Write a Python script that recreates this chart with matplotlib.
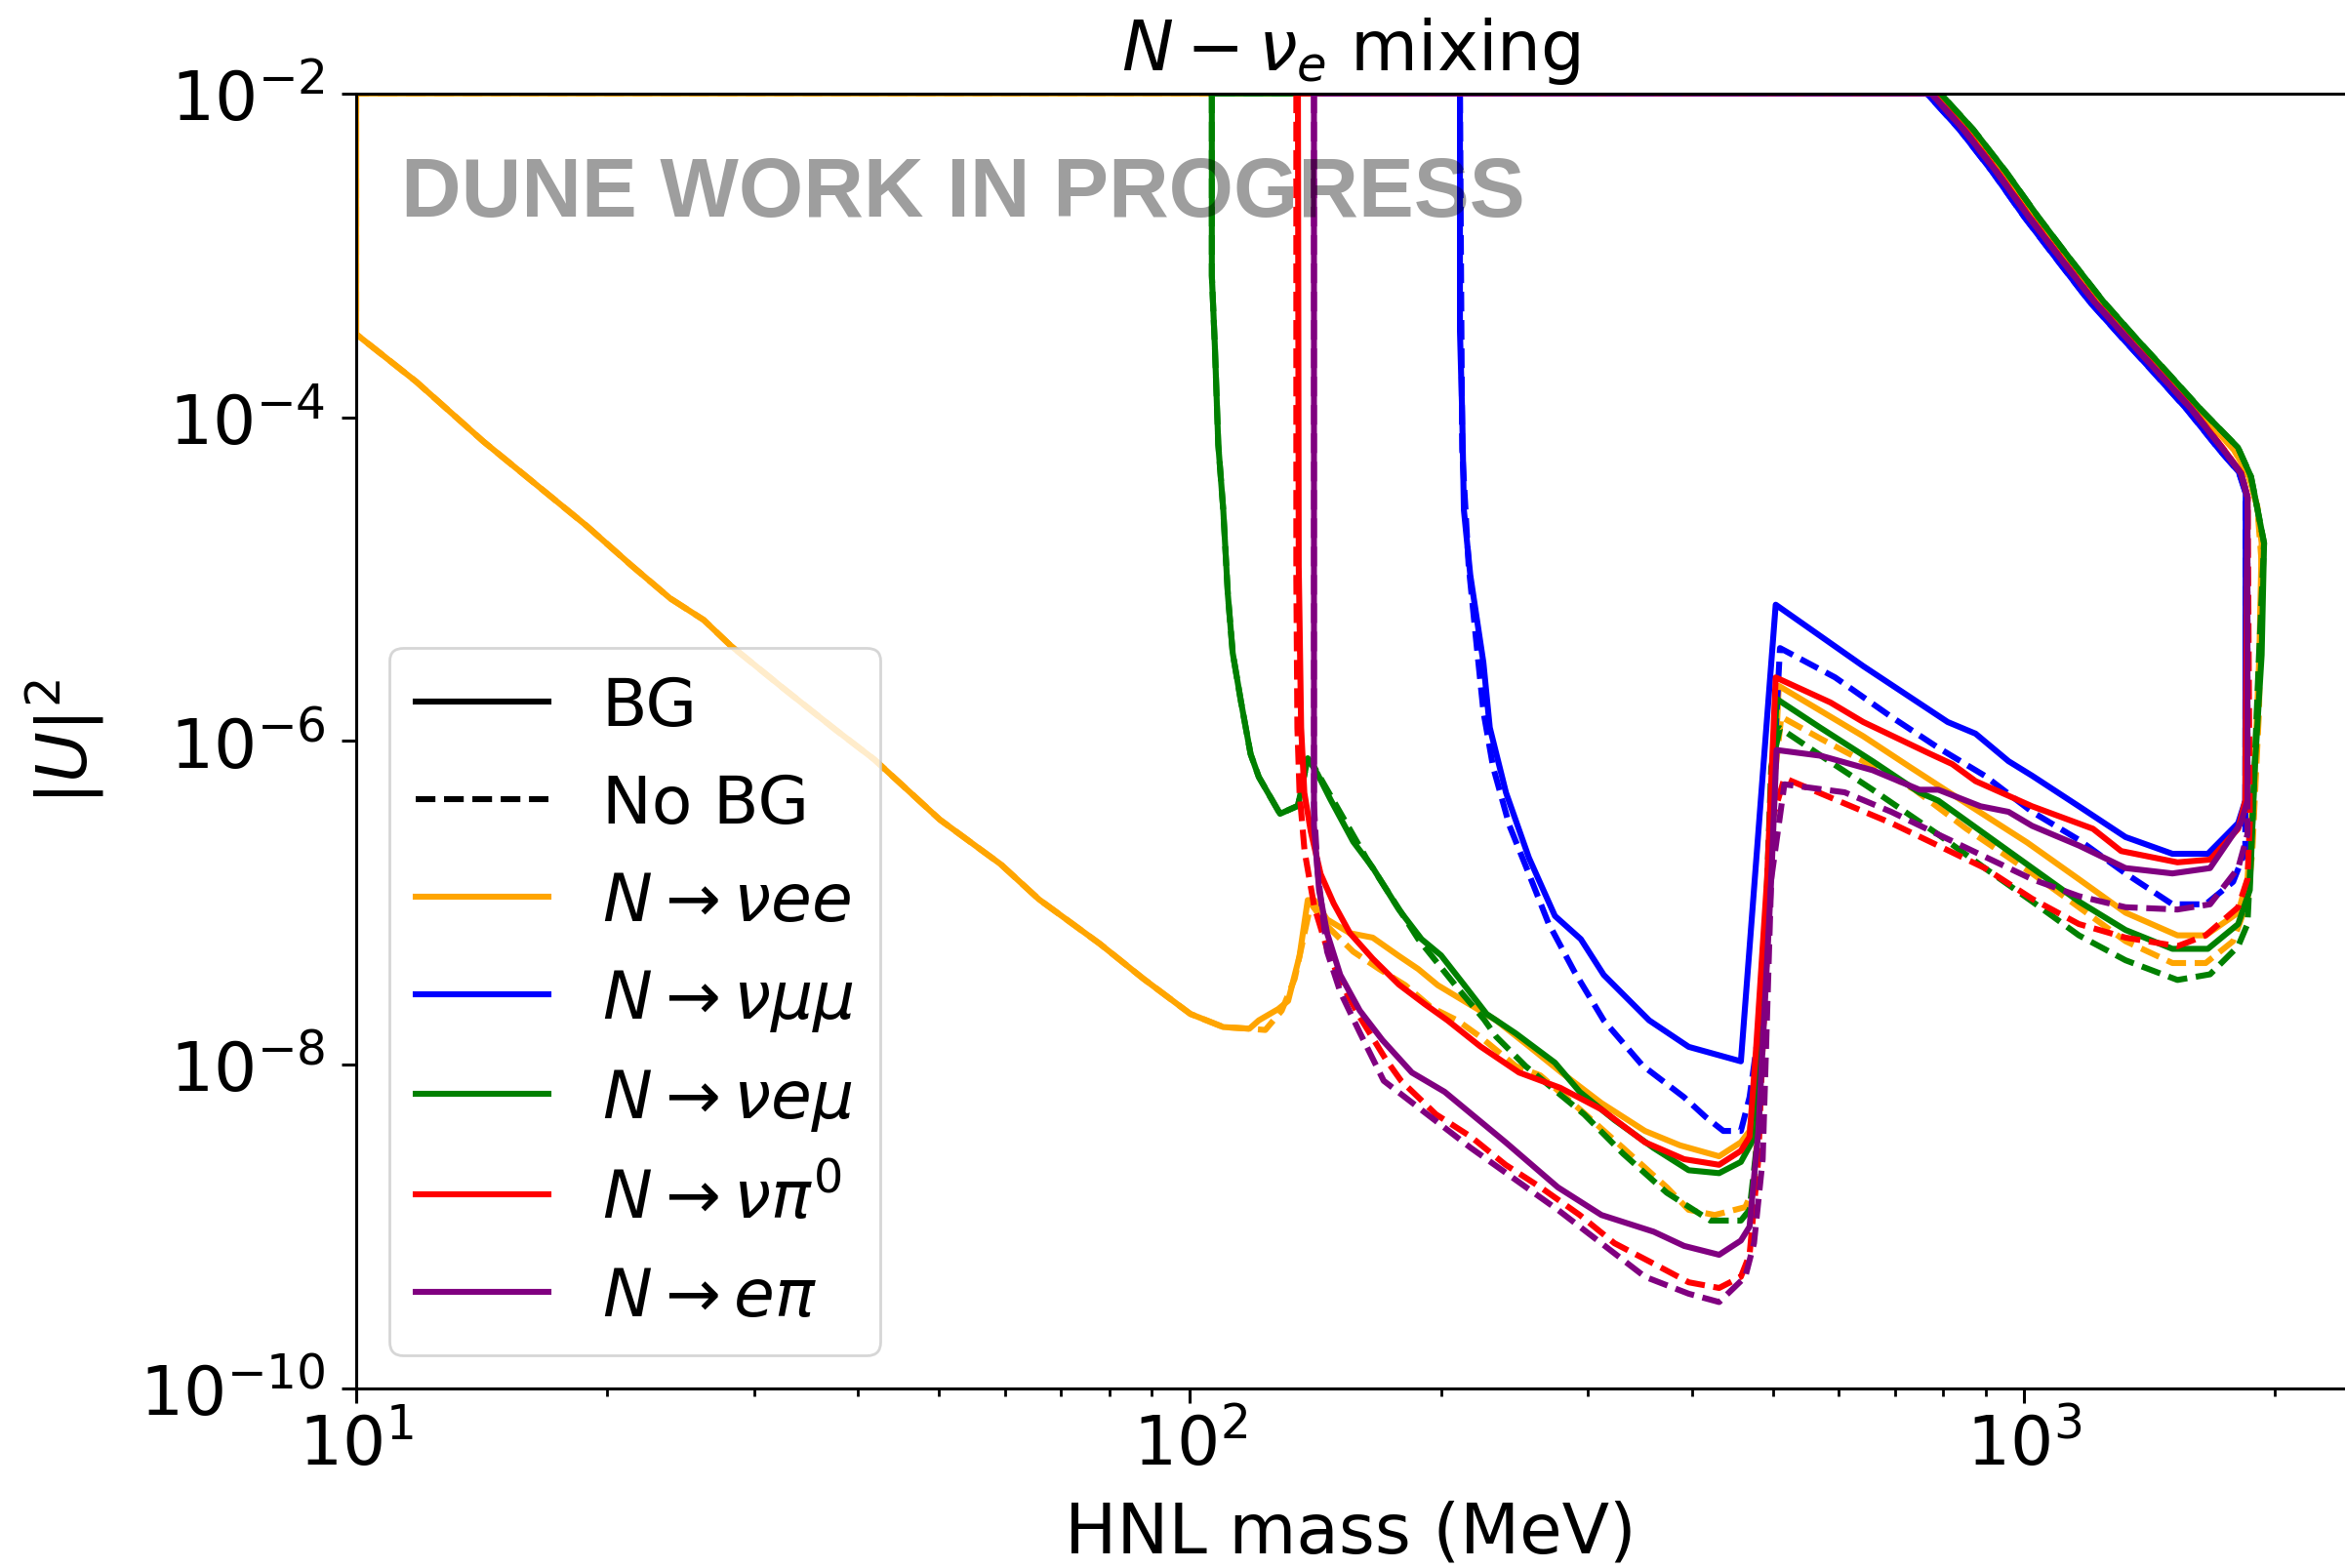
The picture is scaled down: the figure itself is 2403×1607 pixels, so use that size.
import matplotlib
matplotlib.use("Agg")
import matplotlib.pyplot as plt
from matplotlib.lines import Line2D
from matplotlib.ticker import NullLocator

# ---------------------------------------------------------------------------
# Sensitivity contours, |U|^2 versus HNL mass (MeV).
# Each channel: lower boundary with background (bg) and without (nobg),
# plus the shared high-mass upper boundary that closes the contour.
# ---------------------------------------------------------------------------

# N -> nu e e
vee_bg_mass = [10, 10, 11.8, 14.2, 16.8, 18.9, 21.4, 23.8, 26.1, 28.1, 32.7, 37.6, 41.8,
               50.1, 59.3, 65.9, 77.9, 87.9, 100.1, 109.6, 117.8, 120.9, 127.6, 131.1,
               135.3, 138.4, 140.9, 146.0, 155.5, 165.6, 178.0, 187.8, 198.2, 213, 232.9,
               254.9, 278.7, 311.4, 351.2, 386.8, 431.0, 457.7, 468.8, 480.3, 492.0, 508.2,
               571.2, 641.7, 730.3, 853.1, 1009, 1164, 1324, 1528, 1652, 1807, 1854, 1892,
               1916, 1928]
vee_bg_u2 = [1e-2, 3.26e-4, 1.66e-4, 7.1e-5, 3.5e-5, 2.13e-5, 1.21e-5, 7.6e-6, 5.6e-6, 3.9e-6,
             2.07e-6, 1.17e-6, 7.7e-7, 3.27e-7, 1.73e-7, 1.05e-7, 5.6e-8, 3.4e-8, 2.06e-8,
             1.71e-8, 1.67e-8, 1.88e-8, 2.21e-8, 2.48e-8, 4.7e-8, 1.04e-7, 1.04e-7, 7.9e-8,
             6.5e-8, 6.1e-8, 4.7e-8, 3.9e-8, 3.1e-8, 2.48e-8, 1.88e-8, 1.30e-8, 8.97e-9,
             5.8e-9, 3.9e-9, 3.18e-9, 2.72e-9, 3.32e-9, 3.9e-9, 8.6e-9, 6.3e-8, 2.19e-6,
             1.53e-6, 1.07e-6, 6.9e-7, 4.11e-7, 2.36e-7, 1.40e-7, 8.7e-8, 6.3e-8, 6.3e-8,
             8.7e-8, 1.40e-7, 6.9e-7, 3.4e-6, 1.67e-5]
vee_nobg_mass = [10, 10, 11.8, 14.2, 16.8, 18.9, 21.4, 23.8, 26.1, 28.1, 32.7, 37.6, 41.8,
                 50.1, 59.3, 65.9, 77.9, 87.9, 100.1, 109.6, 117.8, 123.1, 128.8, 133.5,
                 139.6, 146.0, 156.9, 168.6, 181.2, 194.7, 209.2, 222.8, 245.9, 263.0, 293.4,
                 330.7, 373.0, 396.2, 425.8, 463.3, 474.6, 486.1, 503.9, 511.7, 571.2, 641.7,
                 739.6, 853.1, 1023, 1164, 1324, 1507, 1652, 1782, 1854, 1879, 1914, 1928]
vee_nobg_u2 = [1e-2, 3.26e-4, 1.66e-4, 7.1e-5, 3.5e-5, 2.13e-5, 1.21e-5, 7.6e-6, 5.6e-6,
               3.9e-6, 2.07e-6, 1.17e-6, 7.7e-7, 3.27e-7, 1.73e-7, 1.05e-7, 5.6e-8, 3.4e-8,
               2.06e-8, 1.71e-8, 1.67e-8, 1.64e-8, 2.16e-8, 3.4e-8, 9.9e-8, 7.2e-8, 5.0e-8,
               3.9e-8, 3.1e-8, 2.26e-8, 1.88e-8, 1.49e-8, 9.8e-9, 8.6e-9, 5.3e-9, 3.06e-9,
               1.75e-9, 1.27e-9, 1.18e-9, 1.32e-9, 1.75e-9, 1.29e-8, 6.9e-7, 1.41e-6, 1.03e-6,
               7.5e-7, 5.0e-7, 2.87e-7, 1.52e-7, 9.4e-8, 5.8e-8, 4.25e-8, 4.25e-8, 5.8e-8,
               1.02e-7, 2.09e-7, 1.53e-6, 1.26e-5]
vee_upper_mass = [1905, 1862, 1786, 1611, 1472, 1346, 1230, 1125, 1028, 940, 859, 785]
vee_upper_u2 = [2.8e-5, 4.3e-5, 6.3e-5, 1.12e-4, 1.87e-4, 3.1e-4, 5.2e-4, 9.4e-4, 1.73e-3,
                3.3e-3, 6.0e-3, 1e-2]

# N -> nu mu mu
vmm_bg_mass = [210.7, 210.7, 212.0, 213.0, 216.8, 224.8, 228.8, 239.3, 254.9, 273.9, 294.2,
               313.4, 355.3, 396.3, 457.7, 503.9, 641.7, 810.2, 875.0, 958.5, 1023, 1164,
               1324, 1507, 1662, 1807, 1843]
vmm_bg_u2 = [1e-2, 3.42e-4, 1.07e-4, 2.68e-5, 1.06e-5, 3.05e-6, 1.21e-6, 4.79e-7, 1.90e-7,
             8.3e-8, 5.97e-8, 3.59e-8, 1.88e-8, 1.29e-8, 1.05e-8, 6.95e-6, 2.9e-6, 1.31e-6,
             1.11e-6, 7.5e-7, 6.1e-7, 3.95e-7, 2.55e-7, 2.01e-7, 2.01e-7, 3.11e-7, 4.28e-7]
vmm_nobg_mass = [210.7, 212.0, 215.8, 220.7, 224.8, 230.9, 241.5, 254.9, 269.0, 289.0, 313.4,
                 348.8, 391.3, 415.6, 436.1, 457.7, 468.8, 483.1, 509.9, 593.8, 693.4, 788.9,
                 897.5, 1023, 1164, 1324, 1507, 1652, 1782, 1843]
vmm_nobg_u2 = [1e-2, 6.3e-5, 1.22e-5, 3.84e-6, 1.52e-6, 6.9e-7, 3.01e-7, 1.51e-7, 7.5e-8,
               3.76e-8, 1.88e-8, 9.9e-9, 6.3e-9, 4.74e-9, 3.9e-9, 3.9e-9, 6.3e-9, 1.91e-8,
               3.75e-6, 2.47e-6, 1.41e-6, 9.1e-7, 6.1e-7, 3.65e-7, 2.45e-7, 1.52e-7, 9.8e-8,
               9.8e-8, 1.35e-7, 2.09e-7]
vmm_upper_mass = [1845, 1810, 1720, 1568, 1434, 1311, 1198, 1096, 1001, 916, 837, 765]
vmm_upper_u2 = [3.4e-5, 4.6e-5, 6.2e-5, 1.12e-4, 1.87e-4, 3.1e-4, 5.2e-4, 9.4e-4, 1.73e-3,
                3.3e-3, 6.0e-3, 1e-2]

# N -> nu e mu
vem_bg_mass = [106.2, 106.2, 107.1, 108.1, 109.6, 111.0, 112.5, 115.1, 118.2, 120.9, 128.2,
               134.7, 138.4, 142.1, 147.3, 156.9, 165.6, 178.0, 189.5, 200.0, 213.0, 226.8,
               245.9, 273.9, 293.3, 322.8, 359.7, 396.3, 431.0, 457.7, 471.6, 483.1, 505.1,
               571.1, 658.5, 749.6, 789.5, 958.5, 1164, 1324, 1507, 1662, 1807, 1866, 1892,
               1928, 1941]
vem_bg_u2 = [1e-2, 7.5e-4, 2.71e-4, 6.8e-5, 2.68e-5, 8.05e-6, 3.5e-6, 1.75e-6, 8.3e-7, 6.0e-7,
             3.55e-7, 3.98e-7, 7.8e-7, 6.3e-7, 4.37e-7, 2.39e-7, 1.65e-7, 9.1e-8, 5.97e-8,
             4.74e-8, 3.13e-8, 2.06e-8, 1.56e-8, 1.03e-8, 6.8e-9, 4.56e-9, 3.06e-9, 2.23e-9,
             2.14e-9, 2.51e-9, 3.32e-9, 1.29e-8, 1.82e-6, 1.2e-6, 7.5e-7, 4.8e-7, 4.28e-7,
             2.09e-7, 1.02e-7, 6.8e-8, 5.2e-8, 5.2e-8, 7.4e-8, 1.20e-7, 6.9e-7, 3.4e-6, 1.67e-5]
vem_nobg_mass = [106.2, 106.2, 107.1, 108.1, 109.6, 111.0, 112.5, 115.1, 118.2, 120.9, 128.2,
                 134.7, 138.4, 140.9, 162.6, 187.8, 209.2, 225.1, 232.9, 252.6, 296.9, 330.7,
                 373.0, 420.7, 457.7, 468.8, 480.3, 497.7, 509.9, 571.2, 658.5, 788.9, 897.5,
                 1023, 1164, 1324, 1528, 1672, 1807, 1854, 1879, 1914, 1941]
vem_nobg_u2 = [1e-2, 7.5e-4, 2.71e-4, 6.8e-5, 2.68e-5, 8.05e-6, 3.5e-6, 1.75e-6, 8.3e-7,
               6.0e-7, 3.55e-7, 3.98e-7, 7.8e-7, 6.9e-7, 1.90e-7, 5.97e-8, 2.99e-8, 1.91e-8,
               1.49e-8, 9.8e-9, 4.94e-9, 2.82e-9, 1.62e-9, 1.09e-9, 1.09e-9, 1.27e-9, 3.9e-9,
               6.9e-7, 1.2e-6, 8.1e-7, 5.0e-7, 2.65e-7, 1.64e-7, 1.02e-7, 6.3e-8, 4.42e-8,
               3.34e-8, 3.62e-8, 5.4e-8, 7.4e-8, 3.11e-7, 3.4e-6, 1.67e-5]
vem_upper_mass = [1906, 1872, 1806, 1629, 1489, 1361, 1245, 1138, 1040, 951, 869, 794]
vem_upper_u2 = [2.7e-5, 4.3e-5, 6.5e-5, 1.12e-4, 1.87e-4, 3.1e-4, 5.2e-4, 9.4e-4, 1.73e-3,
                3.3e-3, 6.0e-3, 1e-2]

# N -> nu pi0
vpi_bg_mass = [134.7, 135.0, 135.9, 137.1, 139.6, 143.4, 148.7, 155.5, 165.6, 178.0, 191.2,
               203.6, 222.8, 248.1, 278.0, 311.4, 351.2, 391.3, 431.0, 457.7, 468.8, 477.5,
               492.0, 503.9, 586.1, 641.7, 769.1, 820.4, 875.0, 1023, 1210, 1308, 1528, 1672,
               1807, 1843]
vpi_bg_u2 = [1e-2, 1.2e-5, 1.21e-6, 4.79e-7, 2.75e-7, 1.51e-7, 9.9e-8, 6.5e-8, 4.52e-8,
             3.13e-8, 2.37e-8, 1.88e-8, 1.30e-8, 8.95e-9, 7.2e-9, 5.3e-9, 3.32e-9, 2.61e-9,
             2.41e-9, 2.94e-9, 3.59e-9, 1.29e-8, 1.40e-7, 2.47e-6, 1.73e-6, 1.31e-6, 8.4e-7,
             7.2e-7, 5.65e-7, 3.95e-7, 2.87e-7, 2.09e-7, 1.78e-7, 1.85e-7, 2.87e-7, 4.28e-7]
vpi_nobg_mass = [134.1, 134.1, 134.5, 135.3, 137.2, 140.9, 146.0, 151.4, 159.8, 171.7, 179.1,
                 197.2, 217.2, 239.0, 263.2, 293.3, 322.8, 359.8, 396.3, 431.0, 457.7, 468.8,
                 480.3, 497.7, 516.1, 609.5, 693.4, 788.9, 897.5, 1023, 1164, 1324, 1528, 1652,
                 1807, 1854, 1866]
vpi_nobg_u2 = [1e-2, 1e-5, 1.2e-6, 4.79e-7, 2.08e-7, 9.5e-8, 5.2e-8, 3.27e-8, 1.97e-8,
               1.08e-8, 7.96e-9, 4.94e-9, 3.59e-9, 2.41e-9, 1.75e-9, 1.18e-9, 7.9e-10,
               5.9e-10, 4.53e-10, 4.18e-10, 4.9e-10, 6.7e-10, 2.61e-9, 3.11e-7, 5.9e-7, 4.11e-7,
               3.11e-7, 2.26e-7, 1.64e-7, 1.06e-7, 7.4e-8, 6.1e-8, 5.4e-8, 6.3e-8, 9.4e-8,
               1.40e-7, 3.11e-7]
vpi_upper_mass = [1855, 1823, 1742, 1592, 1455, 1330, 1216, 1112, 1016, 929, 849, 776]
vpi_upper_u2 = [3.2e-5, 4.5e-5, 6.2e-5, 1.12e-4, 1.87e-4, 3.1e-4, 5.2e-4, 9.4e-4, 1.73e-3,
                3.3e-3, 6.0e-3, 1e-2]

# N -> e pi
epi_bg_mass = [140.8, 140.8, 142.8, 146.0, 151.4, 159.8, 170.1, 184.5, 202.0, 239.0, 276.1,
               311.4, 359.8, 391.3, 431.0, 457.7, 468.8, 480.3, 497.7, 505.1, 571.2, 658.5,
               749.6, 789.5, 887.2, 958.5, 1023, 1164, 1324, 1507, 1672, 1820, 1854]
epi_bg_u2 = [1e-2, 3.01e-7, 1.20e-7, 6.5e-8, 3.59e-8, 2.16e-8, 1.42e-8, 8.95e-9, 6.8e-9,
             3.32e-9, 1.75e-9, 1.18e-9, 9.3e-10, 7.6e-10, 6.7e-10, 8.2e-10, 1.0e-9, 3.9e-9,
             1.40e-7, 8.8e-7, 8.1e-7, 6.6e-7, 5.0e-7, 5.0e-7, 3.95e-7, 3.65e-7, 2.99e-7,
             2.26e-7, 1.64e-7, 1.52e-7, 1.64e-7, 3.11e-7, 4.28e-7]
epi_nobg_mass = [140.8, 140.8, 142.2, 146.0, 151.4, 159.8, 170.7, 217.2, 276.1, 351.2, 396.3,
                 431.0, 463.3, 474.6, 486.1, 497.7, 516.1, 609.5, 693.4, 788.9, 897.5, 1023,
                 1164, 1324, 1528, 1672, 1807, 1854]
epi_nobg_u2 = [1e-2, 4.0e-7, 1.58e-7, 5.0e-8, 2.82e-8, 1.58e-8, 7.96e-9, 3.06e-9, 1.27e-9,
               4.9e-10, 3.85e-10, 3.42e-10, 4.9e-10, 7.9e-10, 2.61e-9, 1.40e-7, 5.4e-7, 4.82e-7,
               3.65e-7, 2.65e-7, 1.93e-7, 1.40e-7, 1.10e-7, 9.4e-8, 9.1e-8, 9.8e-8, 1.64e-7,
               2.65e-7]
epi_upper_mass = [1854, 1821, 1738, 1588, 1451, 1327, 1213, 1109, 1013, 926, 846, 774]
epi_upper_u2 = [3.2e-5, 4.5e-5, 6.2e-5, 1.12e-4, 1.87e-4, 3.1e-4, 5.2e-4, 9.4e-4, 1.73e-3,
                3.3e-3, 6.0e-3, 1e-2]

channel_labels = [r"$N \rightarrow \nu ee$", r"$N \rightarrow \nu\mu\mu$",
                  r"$N \rightarrow \nu e\mu$", r"$N \rightarrow \nu\pi^0$",
                  r"$N \rightarrow e\pi$"]
channel_colors = ["orange", "blue", "green", "red", "purple"]

channels = [
    (vee_bg_mass, vee_bg_u2, vee_nobg_mass, vee_nobg_u2, vee_upper_mass, vee_upper_u2),
    (vmm_bg_mass, vmm_bg_u2, vmm_nobg_mass, vmm_nobg_u2, vmm_upper_mass, vmm_upper_u2),
    (vem_bg_mass, vem_bg_u2, vem_nobg_mass, vem_nobg_u2, vem_upper_mass, vem_upper_u2),
    (vpi_bg_mass, vpi_bg_u2, vpi_nobg_mass, vpi_nobg_u2, vpi_upper_mass, vpi_upper_u2),
    (epi_bg_mass, epi_bg_u2, epi_nobg_mass, epi_nobg_u2, epi_upper_mass, epi_upper_u2),
]


def closed_contour(lower_m, lower_u, upper_m, upper_u):
    """Lower edge, then the upper edge back to the start."""
    m = list(lower_m) + list(upper_m) + [lower_m[0]]
    u = list(lower_u) + list(upper_u) + [lower_u[0]]
    return m, u


FS_TICK = 25
FS_LABEL = 25.5
FS_LEG = 24.5
LW = 2.2
DASH = (3.3, 1.45)

fig = plt.figure(figsize=(2403 / 200, 1608 / 200), dpi=200)
ax = fig.add_axes([0.1519, 0.1144, 0.8481, 0.8254])

for (bm, bu, nm, nu, um, uu), col in zip(channels, channel_colors):
    m, u = closed_contour(bm, bu, um, uu)
    ax.plot(m, u, color=col, lw=LW, ls="-")
    m, u = closed_contour(nm, nu, um, uu)
    ax.plot(m, u, color=col, lw=LW, ls=(0, DASH))

ax.set_xscale("log")
ax.set_yscale("log")
ax.set_xlim(10, 2427)
ax.set_ylim(1e-10, 1e-2)
ax.set_yticks([1e-10, 1e-8, 1e-6, 1e-4, 1e-2])
ax.yaxis.set_minor_locator(NullLocator())

ax.spines["right"].set_visible(False)
for side in ("top", "left", "bottom"):
    ax.spines[side].set_linewidth(1.1)
ax.tick_params(which="major", length=5.4, width=1.1, labelsize=FS_TICK)
ax.tick_params(which="minor", length=3.0, width=1.0)
ax.tick_params(axis="x", which="major", pad=3)
ax.tick_params(axis="y", which="major", pad=6)

ax.set_xlabel("HNL mass (MeV)", fontsize=FS_LABEL, labelpad=8)
ax.set_ylabel(r"$|U|^2$", fontsize=FS_LABEL, labelpad=12)
ax.set_title(r"$N-\nu_e$ mixing", fontsize=FS_LABEL, pad=9)

ax.text(0.0226, 0.9056, "DUNE WORK IN PROGRESS", transform=ax.transAxes,
        fontsize=30.7, fontweight="bold", family="Liberation Sans",
        color="black", alpha=0.38, va="baseline", ha="left", zorder=5)

handles = [Line2D([], [], color="black", lw=LW, ls="-"),
           Line2D([], [], color="black", lw=LW, ls=(0, DASH))]
handles += [Line2D([], [], color=c, lw=LW) for c in channel_colors]
labels = ["BG", "No BG"] + channel_labels
ax.legend(handles, labels, loc="lower left", fontsize=FS_LEG)

fig.savefig("out.png", dpi=200)
